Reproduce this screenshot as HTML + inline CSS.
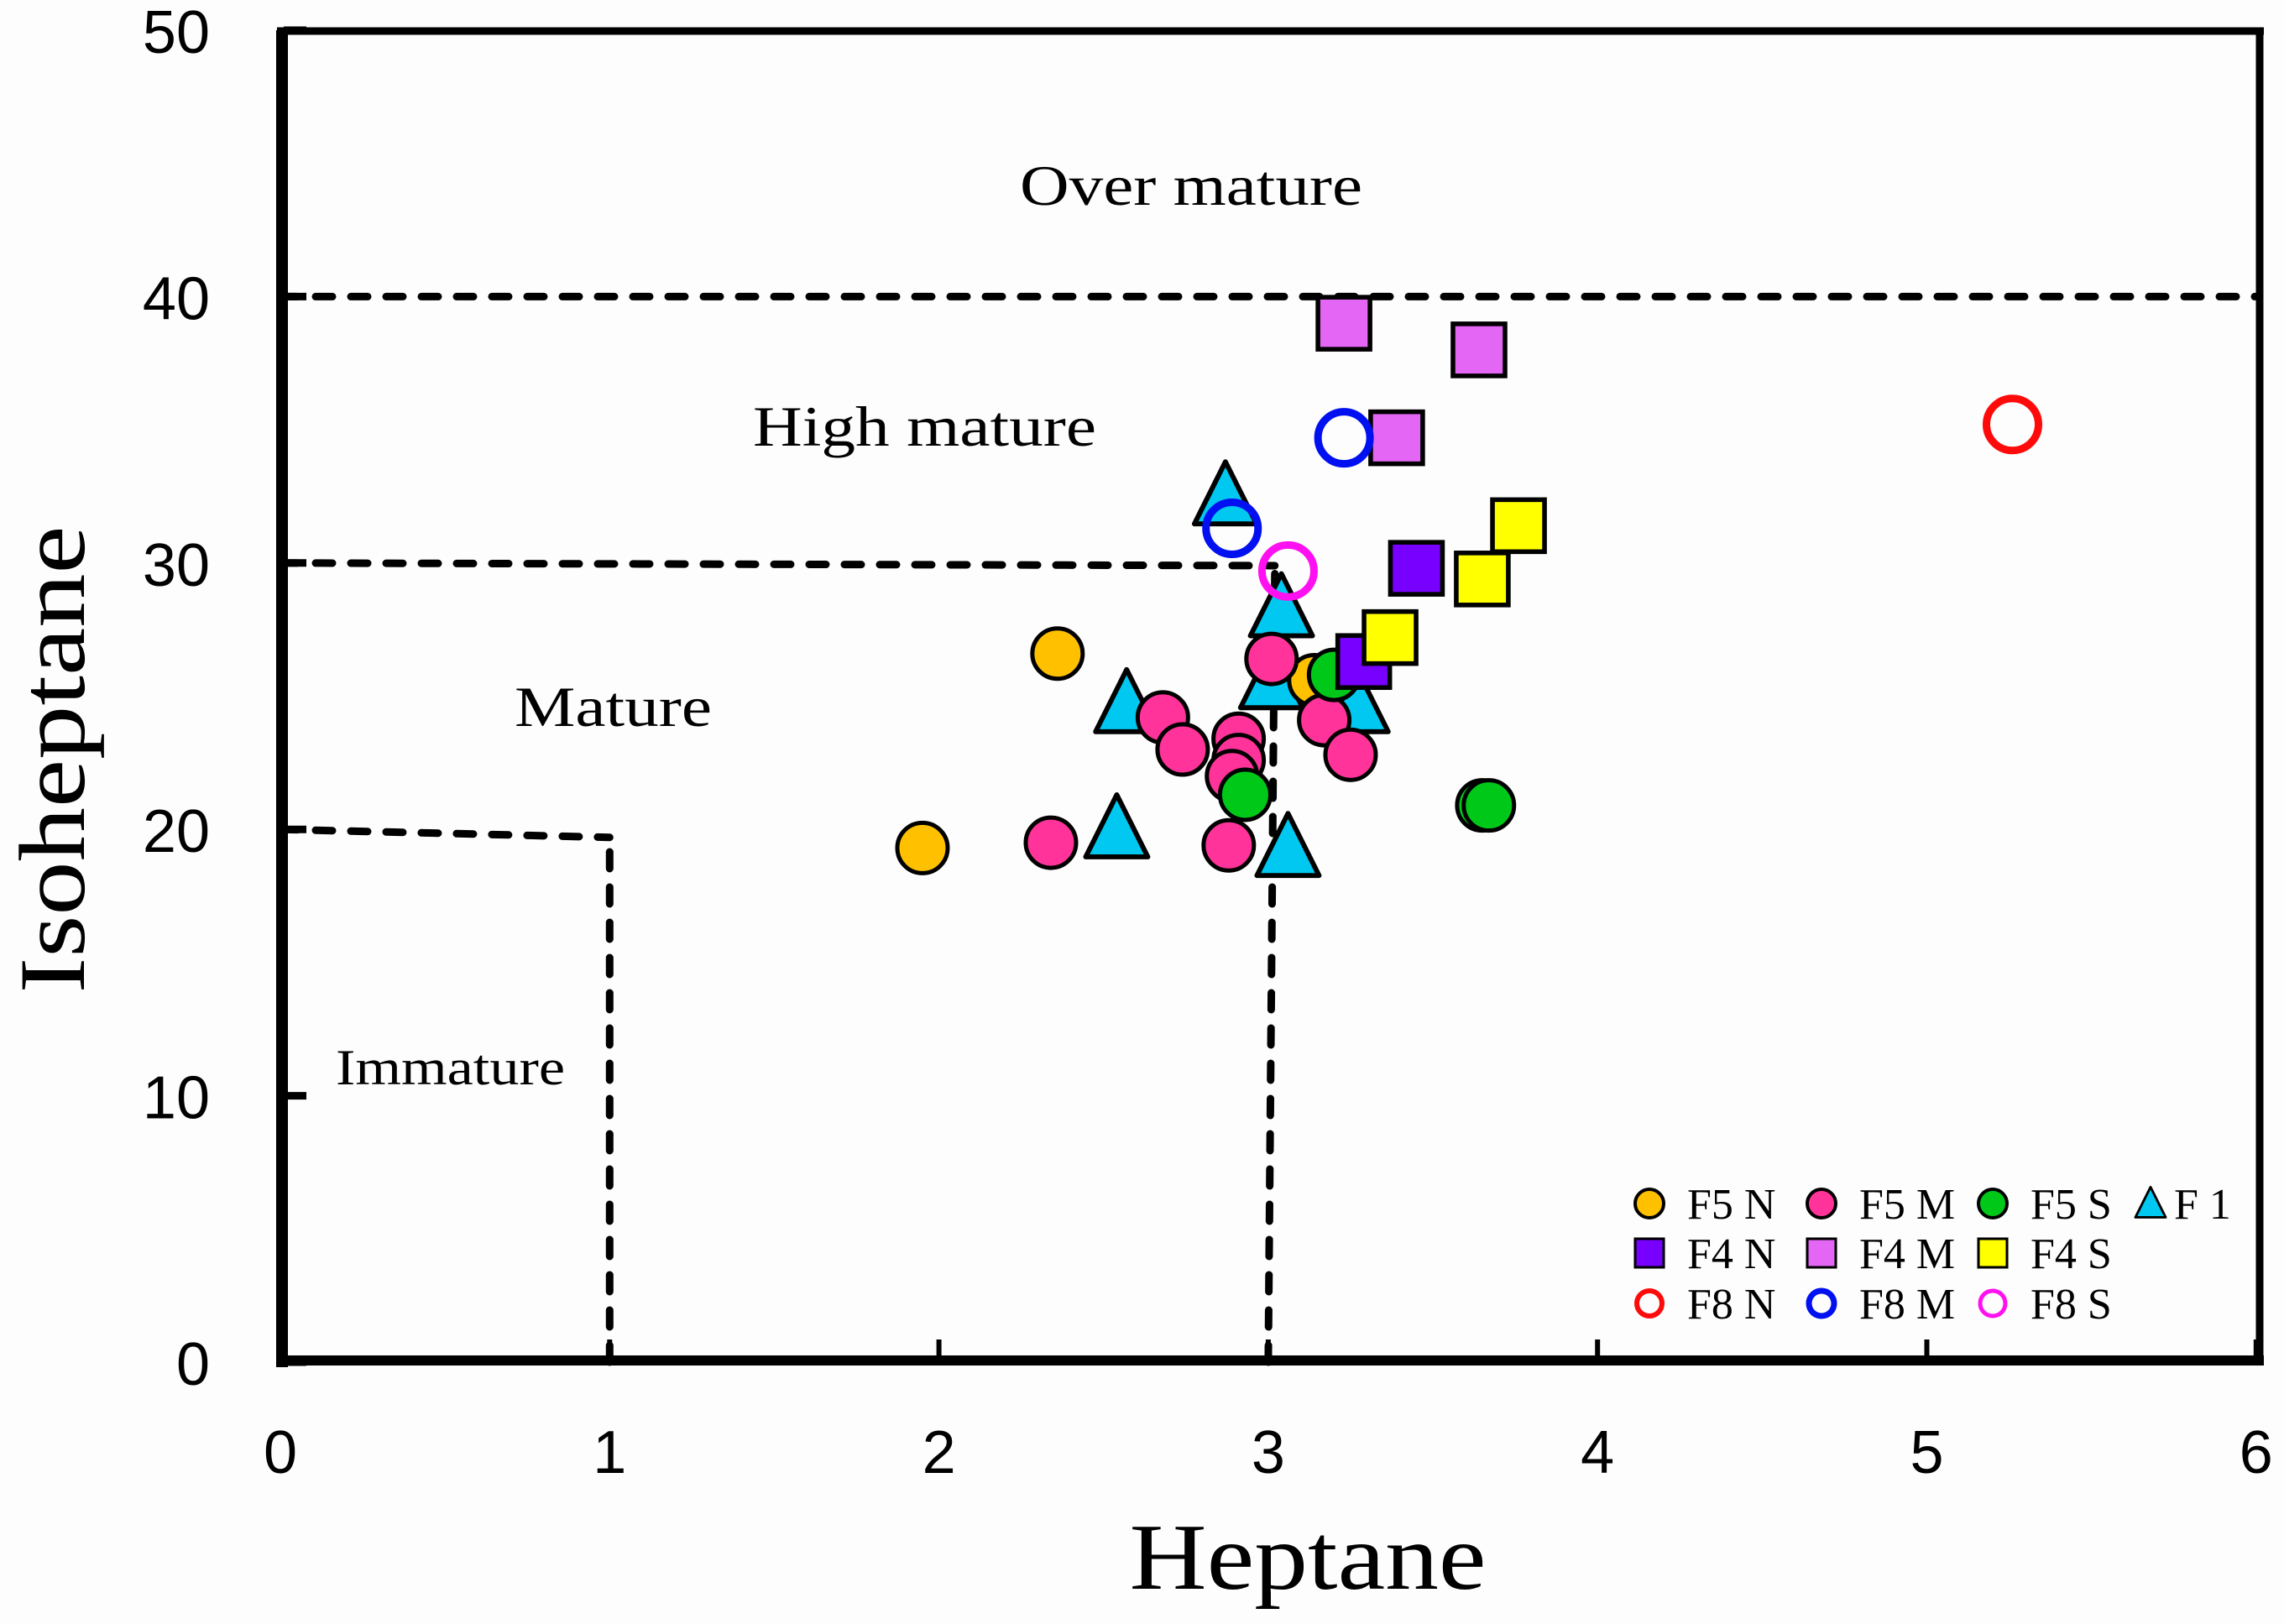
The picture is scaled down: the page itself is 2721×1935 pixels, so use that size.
<!DOCTYPE html>
<html><head><meta charset="utf-8"><style>
html,body{margin:0;padding:0;background:#fdfdfd;}
svg{display:block;}
</style></head><body>
<svg id="chart" width="2721" height="1935" viewBox="0 0 2721 1935" xmlns="http://www.w3.org/2000/svg">
<rect x="0" y="0" width="2721" height="1935" fill="#fdfdfd"/>
<g id="regions"></g>
<g id="marks"></g>
<g id="axes"></g>
<g id="legend"></g>
</svg>
<script>
const xTicks = [0,1,2,3,4,5,6];
const yTicks = [0,10,20,30,40,50];
const f5nX = [2.36, 1.95, 3.14];
const f5nY = [26.6, 19.3, 25.6];
const f1X = [2.87, 3.04, 3.01, 3.27, 2.57, 2.54, 3.06];
const f1Y = [32.4, 28.2, 25.5, 24.6, 24.6, 19.9, 19.2];
const f5mX = [3.01, 2.68, 2.74, 2.91, 2.91, 2.89, 3.17, 3.25, 2.34, 2.88];
const f5mY = [26.4, 24.2, 23.0, 23.4, 22.6, 22.0, 24.1, 22.8, 19.5, 19.4];
const f5sX = [3.20, 2.93, 3.65, 3.67];
const f5sY = [25.8, 21.3, 20.9, 20.9];
const f4nX = [3.45, 3.29];
const f4nY = [29.8, 26.3];
const f4mX = [3.23, 3.64, 3.39];
const f4mY = [39.0, 38.0, 34.7];
const f4sX = [3.76, 3.65, 3.37];
const f4sY = [31.4, 29.4, 27.2];
const f8nX = [5.26];
const f8nY = [35.2];
const f8mX = [3.23, 2.89];
const f8mY = [34.7, 31.3];
const f8sX = [3.06];
const f8sY = [29.7];

const NS = "http://www.w3.org/2000/svg";
const X0 = 334, XU = 392.3, Y0 = 1623, YU = 31.74;
function sx(v){ return X0 + v * XU; }
function sy(v){ return Y0 - v * YU; }
function mk(tag, attrs, parent){
  const e = document.createElementNS(NS, tag);
  for (const k in attrs) e.setAttribute(k, attrs[k]);
  parent.appendChild(e);
  return e;
}
const regions = document.getElementById('regions');
const marks = document.getElementById('marks');
const axes = document.getElementById('axes');
const legend = document.getElementById('legend');
const dash = {stroke:'#000','stroke-width':9,'stroke-dasharray':'20 22','stroke-linecap':'round',fill:'none'};

function dline(x1,y1,x2,y2,name){
  const l = mk('line', Object.assign({x1:sx(x1),y1:sy(y1),x2:sx(x2),y2:sy(y2)}, dash), regions);
  
  
}
dline(0,40,6,40,'over-mature-boundary');
dline(0,30,3.02,29.9,'high-mature-boundary');
dline(3.0,0,3.02,29.6,'mature-vertical-boundary');
dline(0,20,1,19.7,'immature-boundary');
dline(1,0,1,19.5,'immature-vertical-boundary');

function label(txt, x, y, size, len, name){
  const t = mk('text', {x:x, y:y, 'font-family':'Liberation Serif, serif', 'font-size':size, textLength:len, lengthAdjust:'spacingAndGlyphs', fill:'#000'}, regions);
  t.textContent = txt;
  
  
}
label('Over mature', 1215, 244, 68, 408, 'over-mature-label');
label('High mature', 897, 531, 68, 409, 'high-mature-label');
label('Mature', 613, 865, 68, 235, 'mature-label');
label('Immature', 400, 1292, 60, 273, 'immature-label');

function circle(cx, cy, r, fill, stroke, sw, parent){
  return mk('circle', {cx:cx, cy:cy, r:r, fill:fill, stroke:stroke, 'stroke-width':sw}, parent);
}
function square(cx, cy, s, fill, parent){
  return mk('rect', {x:cx-s/2, y:cy-s/2, width:s, height:s, fill:fill, stroke:'#000', 'stroke-width':s*0.09}, parent);
}
function tri(cx, cy, s, fill, parent){
  const h = s;
  return mk('polygon', {points:`${cx},${cy-h*0.6} ${cx-s/2},${cy+h*0.4} ${cx+s/2},${cy+h*0.4}`, fill:fill, stroke:'#000', 'stroke-width':s*0.08, 'stroke-linejoin':'round'}, parent);
}

// draw order roughly matching reference
for (let i=0;i<f4mX.length;i++){ const e = square(sx(f4mX[i]), sy(f4mY[i]), 62, '#e466f5', marks);   }
for (let i=0;i<f8mX.length;i++){ if(i===1) continue; const e = circle(sx(f8mX[i]), sy(f8mY[i]), 31, 'none', '#0010f0', 9, marks);   }
for (let i=0;i<f1X.length;i++){ const e = tri(sx(f1X[i]), sy(f1Y[i]), 74, '#00c8f0', marks);   }
{ const e = circle(sx(f8mX[1]), sy(f8mY[1]), 31, 'none', '#0010f0', 9, marks);   }
for (let i=0;i<f5nX.length;i++){ const e = circle(sx(f5nX[i]), sy(f5nY[i]), 30, '#ffc000', '#000', 5, marks);   }
for (let i=0;i<f5mX.length;i++){ const e = circle(sx(f5mX[i]), sy(f5mY[i]), 30, '#ff3399', '#000', 5, marks);   }
for (let i=0;i<f5sX.length;i++){ const e = circle(sx(f5sX[i]), sy(f5sY[i]), 30, '#00c818', '#000', 5, marks);   }
for (let i=0;i<f4nX.length;i++){ const e = square(sx(f4nX[i]), sy(f4nY[i]), 62, '#7800ff', marks);   }
for (let i=0;i<f4sX.length;i++){ const e = square(sx(f4sX[i]), sy(f4sY[i]), 62, '#ffff00', marks);   }
for (let i=0;i<f8sX.length;i++){ const e = circle(sx(f8sX[i]), sy(f8sY[i]), 31, 'none', '#ff10f0', 9, marks);   }
for (let i=0;i<f8nX.length;i++){ const e = circle(sx(f8nX[i]), sy(f8nY[i]), 31, 'none', '#ff0a0a', 9, marks);   }

// axes frame
{ const e = mk('line',{x1:336,y1:36,x2:336,y2:1629,stroke:'#000','stroke-width':14},axes);   }
{ const e = mk('line',{x1:329,y1:1621,x2:2697,y2:1621,stroke:'#000','stroke-width':12},axes);   }
{ const e = mk('line',{x1:330,y1:37,x2:2697,y2:37,stroke:'#000','stroke-width':9},axes);   }
{ const e = mk('line',{x1:2692,y1:33,x2:2692,y2:1627,stroke:'#000','stroke-width':9},axes);   }
for (let i=0;i<xTicks.length;i++){
  const x = sx(xTicks[i]);
  const t = mk('line',{x1:x,y1:1617,x2:x,y2:1596,stroke:'#000','stroke-width':6},axes);
  
  
  const lb = mk('text',{x:x,y:1755,'text-anchor':'middle','font-family':'Liberation Sans, DejaVu Sans, sans-serif','font-size':72,fill:'#000'},axes);
  lb.textContent = xTicks[i];
  
  
}
for (let i=0;i<yTicks.length;i++){
  const y = sy(yTicks[i]);
  const t = mk('line',{x1:338,y1:y,x2:365,y2:y,stroke:'#000','stroke-width':9},axes);
  
  
  const lb = mk('text',{x:250,y:y+27,'text-anchor':'end','font-family':'Liberation Sans, DejaVu Sans, sans-serif','font-size':72,fill:'#000'},axes);
  lb.textContent = yTicks[i];
  
  
}
{ const t = mk('text',{x:1558,y:1893,'text-anchor':'middle','font-family':'Liberation Serif, serif','font-size':112,textLength:425,lengthAdjust:'spacingAndGlyphs',fill:'#000'},axes);
  t.textContent='Heptane';   }
{ const t = mk('text',{x:0,y:0,'text-anchor':'middle','font-family':'Liberation Serif, serif','font-size':112,textLength:557,lengthAdjust:'spacingAndGlyphs',fill:'#000',transform:'translate(100,905) rotate(-90)'},axes);
  t.textContent='Isoheptane';   }

// legend
const legNames = ['F5 N','F5 M','F5 S','F 1','F4 N','F4 M','F4 S','F8 N','F8 M','F8 S'];
const legX = [1965,2170,2374,2562,1965,2170,2374,1965,2170,2374];
const legRow = [0,0,0,0,1,1,1,2,2,2];
const rowY = [1434,1493,1553];
for (let i=0;i<legNames.length;i++){
  const g = mk('g',{},legend);
  
  
  const cx = legX[i], cy = rowY[legRow[i]];
  if (i===0) circle(cx,cy,17,'#ffc000','#000',4,g);
  else if (i===1) circle(cx,cy,17,'#ff3399','#000',4,g);
  else if (i===2) circle(cx,cy,17,'#00c818','#000',4,g);
  else if (i===3) tri(cx,cy+2,36,'#00c8f0',g);
  else if (i===4) square(cx,cy,34,'#7800ff',g);
  else if (i===5) square(cx,cy,34,'#e466f5',g);
  else if (i===6) square(cx,cy,34,'#ffff00',g);
  else if (i===7) circle(cx,cy,15,'none','#ff0a0a',6,g);
  else if (i===8) circle(cx,cy,15,'none','#0010f0',7,g);
  else circle(cx,cy,15,'none','#ff10f0',5,g);
  const tx = (i===3) ? cx+28 : cx+45;
  const t = mk('text',{x:tx,y:cy+18,'font-family':'Liberation Serif, serif','font-size':52,fill:'#000'},g);
  t.textContent = legNames[i];
  
  
}
</script>
</body></html>
